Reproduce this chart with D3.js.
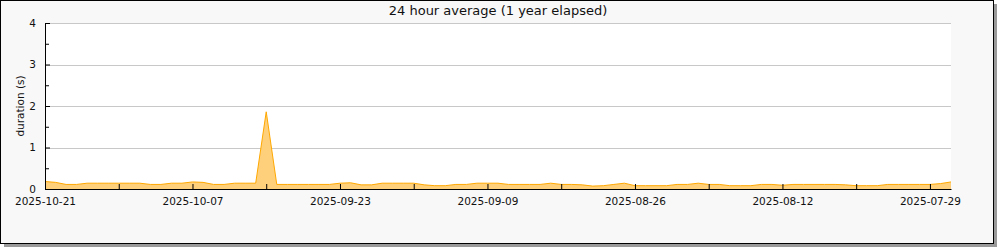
<!DOCTYPE html>
<html>
<head>
<meta charset="utf-8">
<script src="https://cdn.jsdelivr.net/npm/d3@7"></script>
<style>
  body { margin: 0; background: #fff; }
  text { font-family: "DejaVu Sans", sans-serif; fill: #111; }
</style>
</head>
<body>
<div id="chart"></div>
<script>
// daily 24h averages, newest first (starting 2025-10-21, going back one day per value)
var startDate = "2025-10-21";
var endDate = "2025-07-27";
var durations = [
  0.18, 0.16, 0.11, 0.11, 0.14, 0.14, 0.14, 0.14, 0.14, 0.14,
  0.11, 0.11, 0.14, 0.14, 0.17, 0.16, 0.11, 0.11, 0.14, 0.14,
  0.14, 1.86, 0.11, 0.11, 0.11, 0.11, 0.11, 0.11, 0.14, 0.15,
  0.10, 0.10, 0.14, 0.14, 0.14, 0.14, 0.10, 0.08, 0.08, 0.11,
  0.11, 0.14, 0.14, 0.14, 0.11, 0.11, 0.11, 0.11, 0.14, 0.11,
  0.11, 0.10, 0.07, 0.08, 0.11, 0.14, 0.08, 0.08, 0.08, 0.08,
  0.11, 0.11, 0.14, 0.11, 0.11, 0.08, 0.08, 0.08, 0.11, 0.11,
  0.09, 0.11, 0.11, 0.11, 0.11, 0.11, 0.10, 0.08, 0.08, 0.08,
  0.11, 0.11, 0.11, 0.11, 0.11, 0.13, 0.17
];
var yTicks = [0, 1, 2, 3, 4];
var yMinorTicks = [0.5, 1.5, 2.5, 3.5];
var title = "24 hour average (1 year elapsed)";
var yLabel = "duration (s)";

var parse = d3.timeParse("%Y-%m-%d");
var fmt = d3.timeFormat("%Y-%m-%d");
var start = parse(startDate);

var data = durations.map(function (v, i) {
  return { date: d3.timeDay.offset(start, -i), value: v };
});

var W = 1000, H = 250;
var margin = { top: 23, right: 49, bottom: 61, left: 45 },
    width = W - margin.left - margin.right,
    height = H - margin.top - margin.bottom;

var svg = d3.select("#chart")
  .append("svg")
  .attr("width", W)
  .attr("height", H);

// frame with drop shadow
svg.append("rect")
  .attr("x", 4).attr("y", 4)
  .attr("width", 993).attr("height", 243)
  .attr("fill", "#9a9a9a");
svg.append("rect")
  .attr("x", 0.5).attr("y", 0.5)
  .attr("width", 993).attr("height", 243)
  .attr("fill", "#f8f8f8")
  .attr("stroke", "#000");

var g = svg.append("g")
  .attr("transform", "translate(" + margin.left + "," + margin.top + ")");

g.append("rect")
  .attr("width", width)
  .attr("height", height)
  .attr("fill", "#fff");

var x = d3.scaleTime()
  .domain([start, parse(endDate)])
  .range([0, width]);

var y = d3.scaleLinear()
  .domain([0, 4])
  .range([height, 0]);

// gridlines
g.selectAll(".grid")
  .data(yTicks.slice(1))
  .enter().append("line")
  .attr("x1", 0).attr("x2", width)
  .attr("y1", function (d) { return Math.round(y(d)) + 0.5; })
  .attr("y2", function (d) { return Math.round(y(d)) + 0.5; })
  .attr("stroke", "#c8c8c8");

// area
g.append("path")
  .datum(data)
  .attr("fill", "#ffd07c")
  .attr("d", d3.area()
    .x(function (d) { return x(d.date); })
    .y0(y(0))
    .y1(function (d) { return y(d.value); }));

g.append("path")
  .datum(data)
  .attr("fill", "none")
  .attr("stroke", "#ffa800")
  .attr("stroke-width", 1)
  .attr("d", d3.line()
    .x(function (d) { return x(d.date); })
    .y(function (d) { return y(d.value); }));

// x axis: weekly ticks, labels every other week
var weekTicks = d3.timeDay.range(parse(endDate), d3.timeDay.offset(start, 1))
  .filter(function (d) { return Math.round((start - d) / 864e5) % 7 === 0; });

var xAxis = g.append("g")
  .attr("transform", "translate(0," + height + ")")
  .call(d3.axisBottom(x)
    .tickValues(weekTicks)
    .tickSizeInner(-5)
    .tickSizeOuter(0)
    .tickPadding(9)
    .tickFormat(function (d) {
      return Math.round((start - d) / 864e5) % 14 === 0 ? fmt(d) : "";
    }));
xAxis.select(".domain").attr("stroke", "#000");
xAxis.selectAll("text").attr("font-size", "10.5px").attr("fill", "#111")
  .attr("font-family", "DejaVu Sans");

// y axis
var yAxis = g.append("g")
  .call(d3.axisLeft(y)
    .tickValues(yTicks)
    .tickSizeInner(-5)
    .tickSizeOuter(0)
    .tickPadding(9)
    .tickFormat(d3.format("d")));
yAxis.selectAll("text").attr("font-size", "10.5px").attr("fill", "#111")
  .attr("font-family", "DejaVu Sans");

g.append("g")
  .call(d3.axisLeft(y)
    .tickValues(yMinorTicks)
    .tickSizeInner(-4)
    .tickSizeOuter(0)
    .tickFormat(""))
  .select(".domain").remove();

// title and label
svg.append("text")
  .attr("x", 498)
  .attr("y", 15)
  .attr("text-anchor", "middle")
  .attr("font-size", "13px")
  .text(title);

svg.append("text")
  .attr("transform", "translate(24," + (margin.top + height / 2) + ") rotate(-90)")
  .attr("text-anchor", "middle")
  .attr("font-size", "10.5px")
  .text(yLabel);
</script>
</body>
</html>
